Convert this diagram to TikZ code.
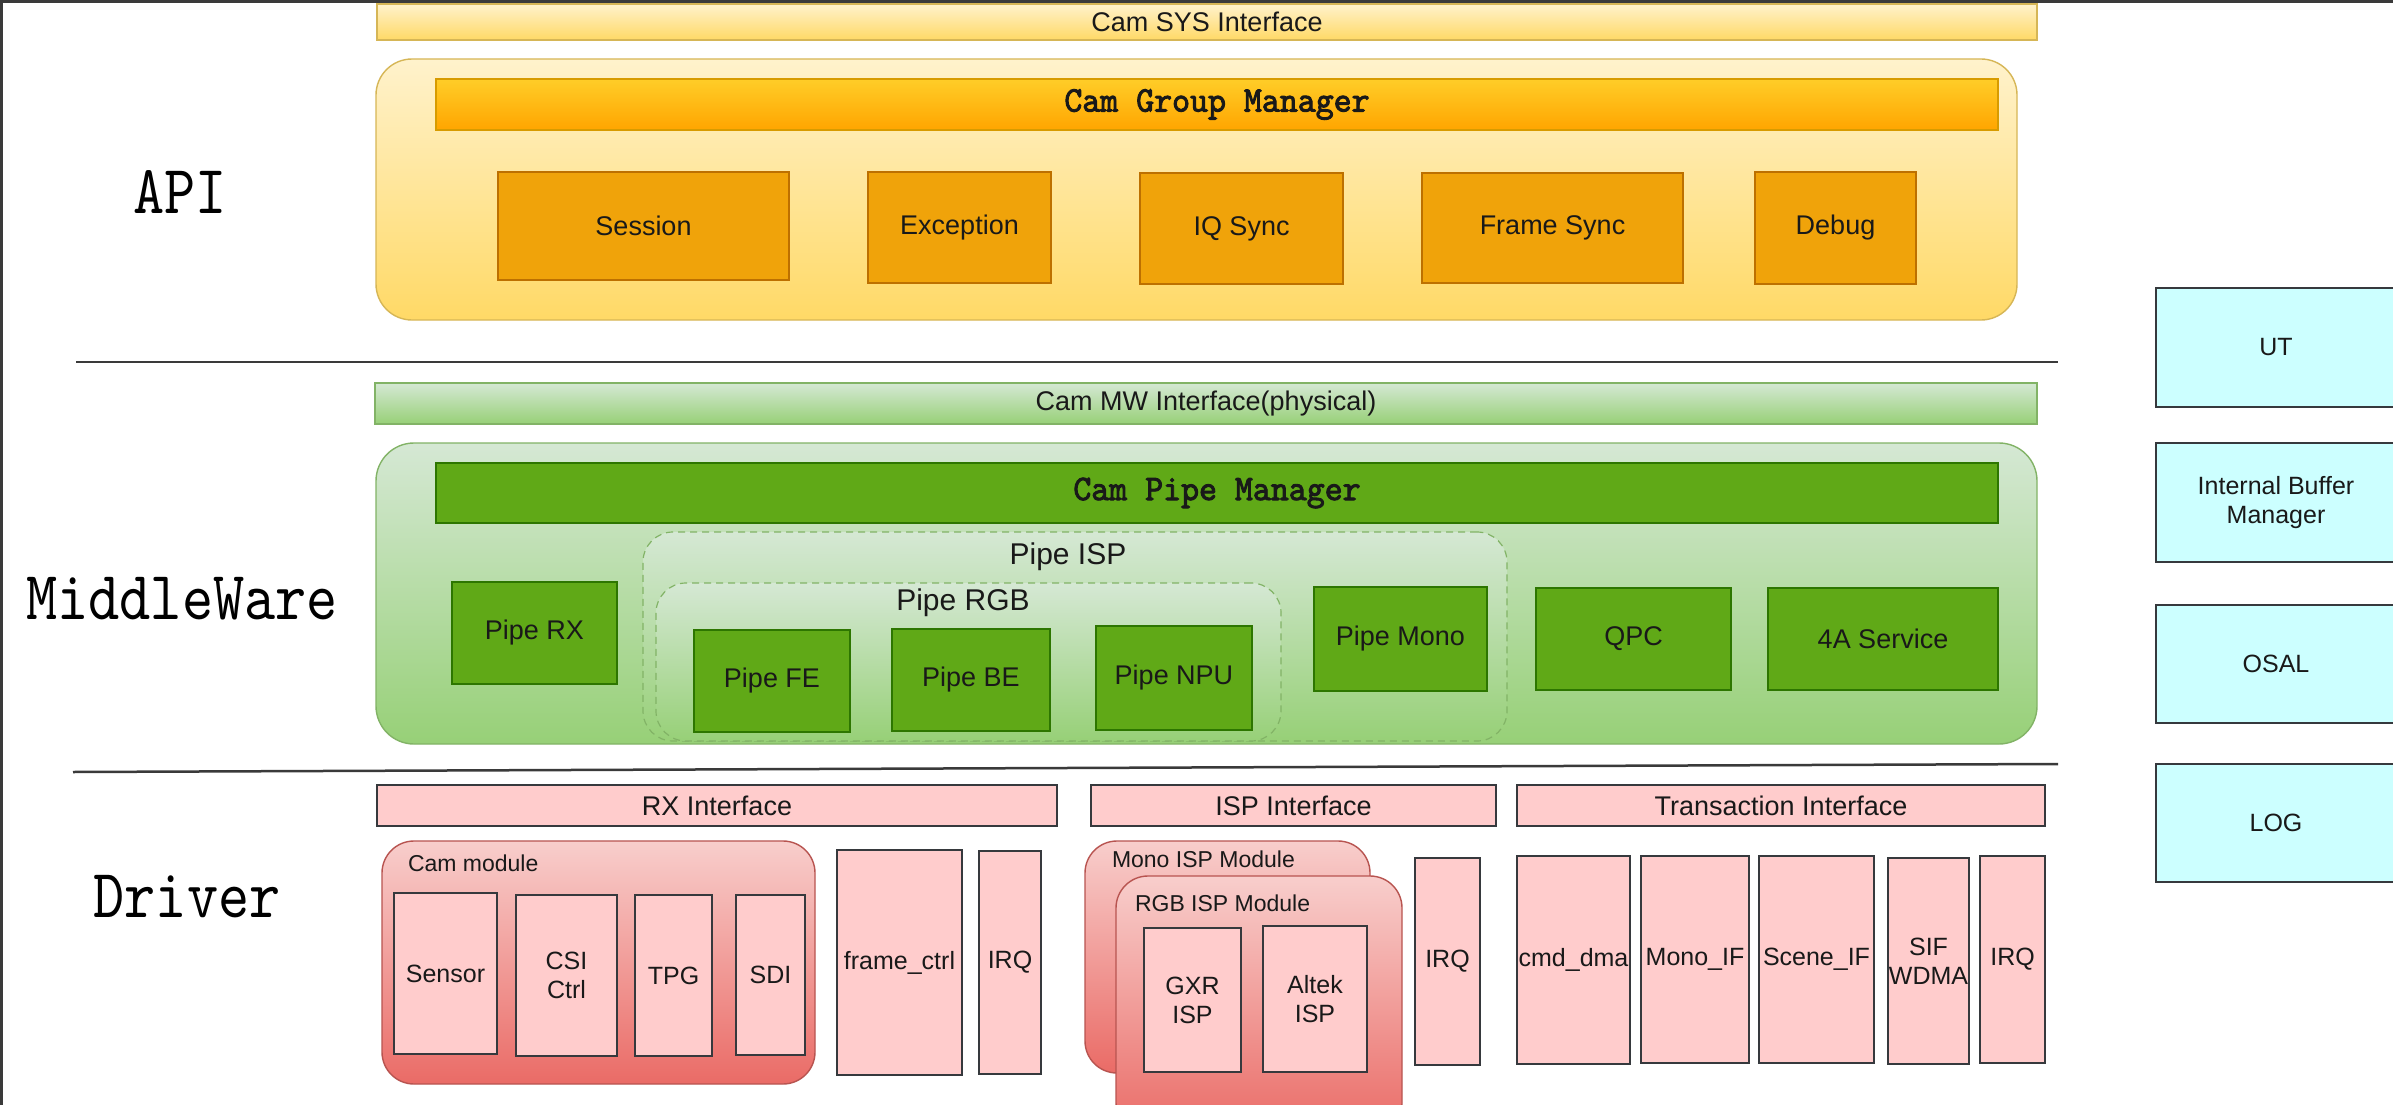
\documentclass[tikz,border=0pt]{standalone}
\usepackage{fontspec}
\setmainfont{Liberation Sans}
\newfontfamily\ttl{lmmono10-regular.otf}[FakeStretch=0.86]
\newfontfamily\ttlb{lmmono10-regular.otf}[FakeStretch=0.95,FakeBold=2.5]
\definecolor{sysT}{HTML}{FFF2CC}
\definecolor{sysB}{HTML}{FFD966}
\definecolor{sysS}{HTML}{D6B656}
\definecolor{orT}{HTML}{FFCD28}
\definecolor{orB}{HTML}{FFA500}
\definecolor{orS}{HTML}{D79B00}
\definecolor{orF}{HTML}{F0A30A}
\definecolor{orFS}{HTML}{BD7000}
\definecolor{mwT}{HTML}{D5E8D4}
\definecolor{mwB}{HTML}{97D077}
\definecolor{mwS}{HTML}{82B366}
\definecolor{grF}{HTML}{60A917}
\definecolor{grS}{HTML}{2D7600}
\definecolor{pkF}{HTML}{FFCCCC}
\definecolor{dkS}{HTML}{36393D}
\definecolor{rdT}{HTML}{F8CECC}
\definecolor{rdB}{HTML}{EA6B66}
\definecolor{rdS}{HTML}{B85450}
\definecolor{cyF}{HTML}{CCFFFF}
\definecolor{lineC}{HTML}{3A3A3A}
\tikzset{
  every node/.style={inner sep=0pt, outer sep=0pt},
  bxbase/.style={anchor=north west, align=center, line width=1.4pt, text=black!90},
  f27/.style={font=\fontsize{27}{31}\selectfont},
  f25/.style={font=\fontsize{25}{29}\selectfont},
  sysbar/.style={bxbase, f27, draw=sysS, top color=sysT, bottom color=sysB},
  apibox/.style={bxbase, draw=sysS, top color=sysT, bottom color=sysB, rounded corners=36pt},
  orgbar/.style={bxbase, draw=orS, top color=orT, bottom color=orB, font=\ttlb\fontsize{36}{40}\selectfont},
  orbox/.style={bxbase, f27, draw=orFS, fill=orF},
  mwbar/.style={bxbase, f27, draw=mwS, top color=mwT, bottom color=mwB},
  mwbox/.style={bxbase, draw=mwS, top color=mwT, bottom color=mwB, rounded corners=38pt},
  grbar/.style={bxbase, draw=grS, fill=grF, font=\ttlb\fontsize{36}{40}\selectfont},
  grbox/.style={bxbase, f27, draw=grS, fill=grF},
  dashreg/.style={bxbase, draw=mwS, dash pattern=on 7pt off 5pt, line width=1.2pt, top color=mwT, bottom color=mwB, rounded corners=30pt},
  cyanbox/.style={bxbase, f25, draw=dkS, fill=cyF, line width=1.8pt},
  pinkbar/.style={bxbase, f27, draw=dkS, fill=pkF},
  pinkbox/.style={bxbase, f25, draw=dkS, fill=pkF},
  redmod/.style={bxbase, draw=rdS, top color=rdT, bottom color=rdB, rounded corners=32pt},
  lbl/.style={font=\fontsize{23}{27}\selectfont, text=black!90},
  ttllabel/.style={font=\ttl\fontsize{69}{75}\selectfont, anchor=base},
  sepline/.style={draw=lineC, line width=2.5pt}
}
\newcommand\RB[7]{\node[#1, minimum width={#5-#3}, minimum height={#6-#4}] (#2) at (#3,#4) {#7};}
\begin{document}
\begin{tikzpicture}[x=1pt, y=-1pt]
\useasboundingbox (0,0) rectangle (2393,1105);
\fill[white] (0,0) rectangle (2393,1105);
\clip (0,0) rectangle (2393,1105);
% window edges
\fill[lineC] (0,0) rectangle (2393,3);
\fill[lineC] (0,0) rectangle (2.5,1105);

% ---------------- API ----------------
\node[ttllabel] (tapi) at (180,213) {API};
\RB{sysbar}{sys}{377}{4}{2037}{40}{Cam SYS Interface}
\RB{apibox}{api}{376}{59}{2017}{320}{}
\RB{orgbar}{cgm}{436}{79}{1998}{130}{Cam Group Manager}
\RB{orbox}{session}{498}{172}{789}{280}{Session}
\RB{orbox}{exception}{868}{172}{1051}{283}{Exception}
\RB{orbox}{iqsync}{1140}{173}{1343}{284}{IQ Sync}
\RB{orbox}{framesync}{1422}{173}{1683}{283}{Frame Sync}
\RB{orbox}{debug}{1755}{172}{1916}{284}{Debug}

\coordinate (s1a) at (76,362);
\coordinate (s1b) at (2058,362);
\draw[sepline] (s1a) -- (s1b);

% ---------------- MiddleWare ----------------
\node[ttllabel] (tmw) at (182,619) {MiddleWare};
\RB{mwbar}{mw}{375}{383}{2037}{424}{Cam MW Interface(physical)}
\RB{mwbox}{mwb}{376}{443}{2037}{744}{}
\RB{grbar}{cpm}{436}{463}{1998}{523}{Cam Pipe Manager}
\RB{dashreg}{pisp}{643}{532}{1507}{741}{}
\RB{dashreg}{prgb}{656}{583}{1281}{741}{}
\node[font=\fontsize{30}{34}\selectfont, text=black!90] (lpisp) at (1068,557) {Pipe ISP};
\node[font=\fontsize{30}{34}\selectfont, text=black!90] (lprgb) at (963,603) {Pipe RGB};
\RB{grbox}{prx}{452}{582}{617}{684}{Pipe RX}
\RB{grbox}{pfe}{694}{630}{850}{732}{Pipe FE}
\RB{grbox}{pbe}{892}{629}{1050}{731}{Pipe BE}
\RB{grbox}{pnpu}{1096}{626}{1252}{730}{Pipe NPU}
\RB{grbox}{pmono}{1314}{587}{1487}{691}{Pipe Mono}
\RB{grbox}{qpc}{1536}{588}{1731}{690}{QPC}
\RB{grbox}{fourA}{1768}{588}{1998}{690}{4A Service}

\coordinate (s2a) at (73,772);
\coordinate (s2b) at (2058,764);
\draw[sepline] (s2a) -- (s2b);

% ---------------- right column ----------------
\RB{cyanbox}{ut}{2156}{288}{2396}{407}{UT}
\RB{cyanbox}{ibm}{2156}{443}{2396}{562}{Internal Buffer\\Manager}
\RB{cyanbox}{osal}{2156}{605}{2396}{723}{OSAL}
\RB{cyanbox}{log}{2156}{764}{2396}{882}{LOG}

% ---------------- Driver ----------------
\node[ttllabel] (tdrv) at (187,917) {Driver};
\RB{pinkbar}{rxif}{377}{785}{1057}{826}{RX Interface}
\RB{pinkbar}{ispif}{1091}{785}{1496}{826}{ISP Interface}
\RB{pinkbar}{trif}{1517}{785}{2045}{826}{Transaction Interface}

\RB{redmod}{cammod}{382}{841}{815}{1084}{}
\node[lbl, anchor=west] (lcam) at (408,863) {Cam module};
\RB{pinkbox}{sensor}{394}{893}{497}{1054}{Sensor}
\RB{pinkbox}{csi}{516}{895}{617}{1056}{CSI\\Ctrl}
\RB{pinkbox}{tpg}{635}{895}{712}{1056}{TPG}
\RB{pinkbox}{sdi}{736}{895}{805}{1055}{SDI}
\RB{pinkbox}{framectrl}{837}{850}{962}{1075}{frame\_ctrl}
\RB{pinkbox}{irqa}{979}{851}{1041}{1074}{IRQ}

\RB{redmod}{monoisp}{1085}{841}{1370}{1073}{}
\node[lbl, anchor=west] (lmono) at (1112,859) {Mono ISP Module};
\RB{redmod}{rgbisp}{1116}{876}{1402}{1135}{}
\node[lbl, anchor=west] (lrgb) at (1135,903) {RGB ISP Module};
\RB{pinkbox}{gxr}{1144}{928}{1241}{1072}{GXR\\ISP}
\RB{pinkbox}{altek}{1263}{926}{1367}{1072}{Altek\\ISP}
\RB{pinkbox}{irqb}{1415}{858}{1480}{1065}{IRQ}

\RB{pinkbox}{cmddma}{1517}{856}{1630}{1064}{cmd\_dma}
\RB{pinkbox}{monoif}{1641}{856}{1749}{1063}{Mono\_IF}
\RB{pinkbox}{sceneif}{1759}{856}{1874}{1063}{Scene\_IF}
\RB{pinkbox}{sifwdma}{1888}{858}{1969}{1064}{SIF\\WDMA}
\RB{pinkbox}{irqc}{1980}{856}{2045}{1063}{IRQ}
\end{tikzpicture}
\end{document}
